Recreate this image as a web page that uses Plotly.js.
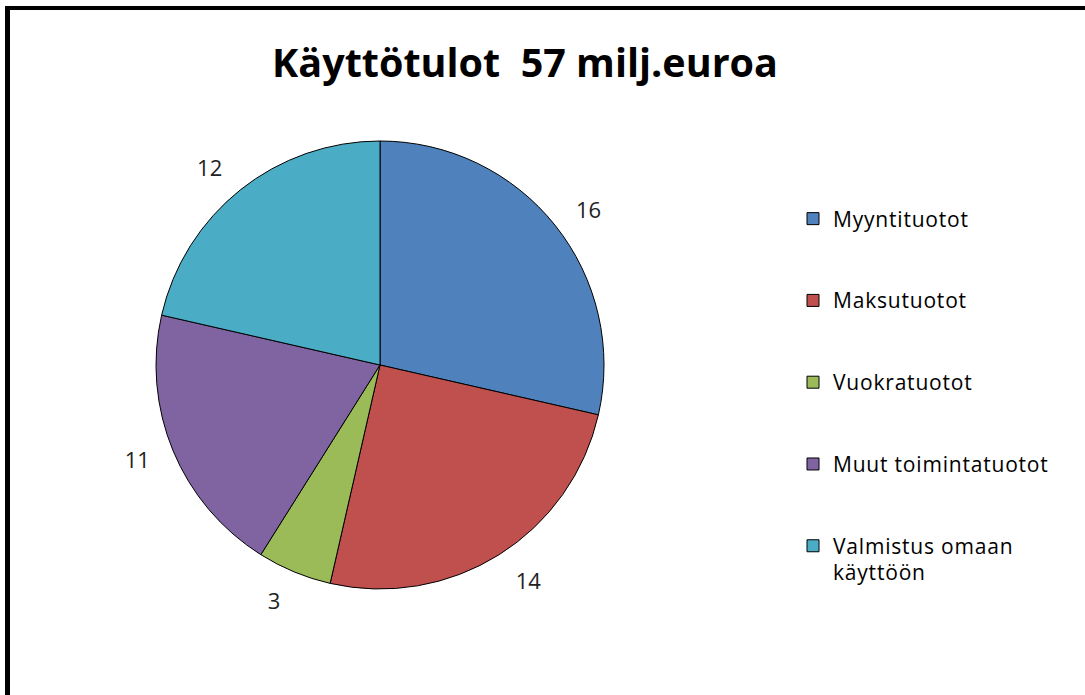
<!DOCTYPE html>
<html>
<head>
<meta charset="utf-8">
<script src="https://cdn.plot.ly/plotly-3.0.1.min.js"></script>
<style>
  html, body { margin: 0; padding: 0; background: #fff; }
  #wrap { position: relative; width: 1085px; height: 695px; overflow: hidden; }
  #chart { position: absolute; left: 0; top: 0; width: 1085px; height: 695px; }
  #frame { position: absolute; left: 5px; top: 6px; width: 1200px; height: 800px;
           border-left: 5px solid #000; border-top: 4px solid #000; pointer-events: none; }
</style>
</head>
<body>
<div id="wrap">
  <div id="chart"></div>
  <div id="frame"></div>
</div>
<script>
// ---- data ----
const categories = ['Myyntituotot', 'Maksutuotot', 'Vuokratuotot', 'Muut toimintatuotot', 'Valmistus omaan<br>käyttöön'];
const values = [16, 14, 3, 11, 12];
const colors = ['#4F81BD', '#C0504D', '#9BBB59', '#8064A2', '#4BACC6'];
const chartTitle = 'Käyttötulot&nbsp;&nbsp;57 milj.euroa';

// legend text: slightly wider glyphs, padded to three lines so the entry spacing matches
const legendLabels = categories.map(c => {
  const parts = c.split('<br>');
  while (parts.length < 3) parts.push('&nbsp;');
  return parts.map(p => '<span style="font-size:21px;letter-spacing:0.8px">' + p + '</span>').join('<br>');
});

const W = 1085, H = 695;
const cx = 380, cy = 365, r = 224, rLab = 241;
function dom(rad) {
  return {
    x: [(cx - rad) / W, (cx + rad) / W],
    y: [(H - cy - rad) / H, (H - cy + rad) / H]
  };
}

const pieMain = {
  type: 'pie',
  labels: legendLabels,
  values: values,
  sort: false,
  direction: 'clockwise',
  rotation: 0,
  marker: { colors: colors, line: { color: '#000', width: 1 } },
  textinfo: 'none',
  hoverinfo: 'label+value',
  domain: dom(r),
  showlegend: true
};

const pieLabels = {
  type: 'pie',
  labels: legendLabels,
  values: values,
  sort: false,
  direction: 'clockwise',
  rotation: 0,
  marker: { colors: values.map(() => 'rgba(0,0,0,0)'), line: { width: 0 } },
  textinfo: 'value',
  textposition: 'outside',
  outsidetextfont: { family: 'Open Sans, sans-serif', size: 22, color: '#222' },
  hoverinfo: 'skip',
  domain: dom(rLab),
  showlegend: false
};

const layout = {
  width: W, height: H,
  margin: { l: 0, r: 0, t: 0, b: 0 },
  paper_bgcolor: '#fff',
  title: {
    text: chartTitle,
    x: 525 / W, xanchor: 'center',
    y: 1 - 63 / H, yanchor: 'middle',
    font: { family: 'Open Sans, sans-serif', size: 39.5, color: '#000', weight: 'bold' }
  },
  showlegend: true,
  legend: {
    x: 793 / W, xanchor: 'left',
    y: 1 - 199 / H, yanchor: 'top',
    valign: 'top',
    font: { family: 'Open Sans, sans-serif', size: 20.2, color: '#000' },
    bgcolor: 'rgba(0,0,0,0)'
  }
};

Plotly.newPlot('chart', [pieMain, pieLabels], layout, { displayModeBar: false, staticPlot: true });
</script>
</body>
</html>
